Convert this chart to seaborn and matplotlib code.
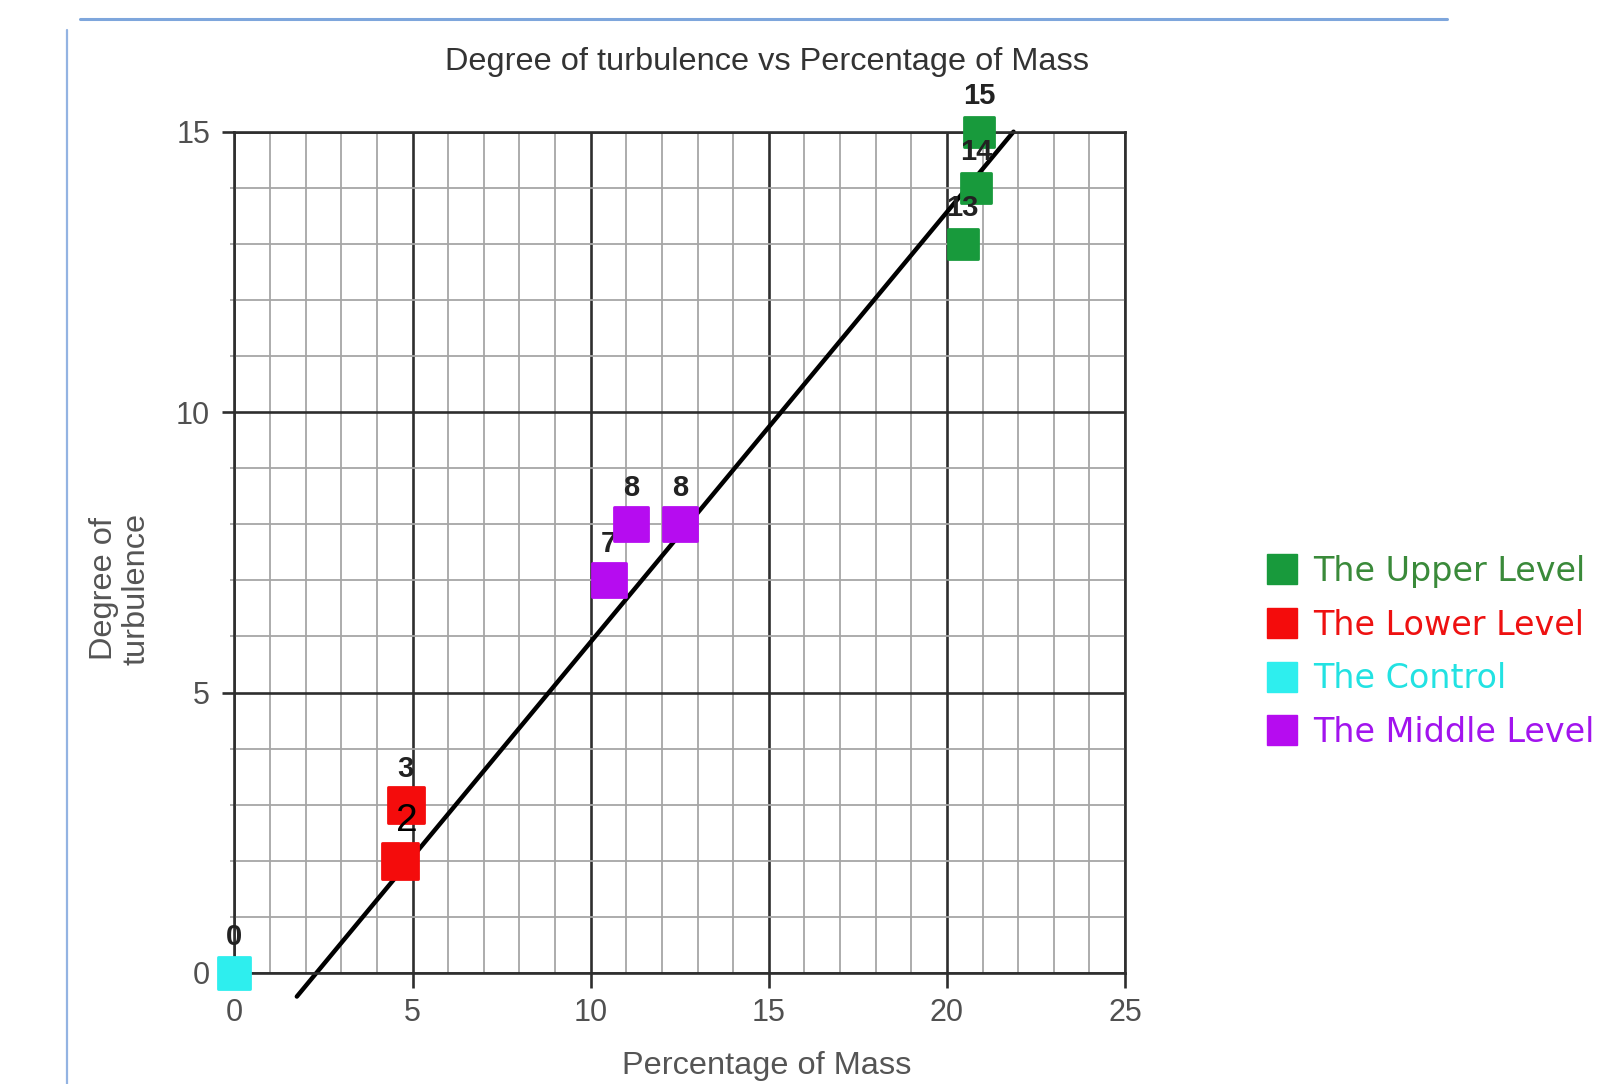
import matplotlib
matplotlib.use('Agg')
import matplotlib.pyplot as plt
from matplotlib.lines import Line2D
from matplotlib.ticker import MultipleLocator
import seaborn as sns
import pandas as pd

# Values (points drawn in this order)
groups = ['The Control', 'The Lower Level', 'The Lower Level',
          'The Middle Level', 'The Middle Level', 'The Middle Level',
          'The Upper Level', 'The Upper Level', 'The Upper Level']
mass = [0.0, 4.81, 4.65, 10.51, 11.13, 12.51, 20.90, 20.82, 20.44]
turbulence = [0, 3, 2, 7, 8, 8, 15, 14, 13]
point_labels = ['0', '3', '2', '7', '8', '8', '15', '14', '13']

# trend line end points
trend_mass = [1.75, 21.87]
trend_turbulence = [-0.42, 15.0]

legend_order = ['The Upper Level', 'The Lower Level', 'The Control', 'The Middle Level']
x_ticks = [0, 5, 10, 15, 20, 25]
y_ticks = [0, 5, 10, 15]

marker_colors = {'The Upper Level': '#189a3c', 'The Lower Level': '#f40c0c',
                 'The Control': '#2eeeee', 'The Middle Level': '#b60cf0'}
marker_sizes = {'The Upper Level': 470, 'The Lower Level': 690,
                'The Control': 560, 'The Middle Level': 600}
legend_text_colors = {'The Upper Level': '#3a8a3a', 'The Lower Level': '#ee1111',
                      'The Control': '#22e2e2', 'The Middle Level': '#a214ee'}

sns.set_theme(style='white')
plt.rcParams['font.family'] = ['Liberation Sans', 'DejaVu Sans']

W, H = 1615, 1084
fig = plt.figure(figsize=(W / 100, H / 100), dpi=100)
ax = fig.add_axes([234.5 / W, 1 - 973 / H, (1125 - 234.5) / W, (973 - 131.7) / H])

df = pd.DataFrame({'group': groups, 'mass': mass,
                   'turbulence': turbulence, 'label': point_labels})

# trend line
sns.lineplot(x=trend_mass, y=trend_turbulence, color='black', linewidth=3.2,
             ax=ax, clip_on=False, zorder=2)

# points and their value labels, each drawn on top of the previous one
for i, row in df.iterrows():
    c = marker_colors[row.group]
    sns.scatterplot(data=df.iloc[[i]], x='mass', y='turbulence', color=c,
                    edgecolor=c, linewidth=2, marker='s', s=marker_sizes[row.group],
                    clip_on=False, zorder=3 + 2 * i, legend=False, ax=ax)
    if row.label == '2':
        ax.annotate(row.label, (row.mass, row.turbulence), xytext=(5, 29),
                    textcoords='offset points', ha='center', va='center',
                    fontsize=28, color='black', zorder=4 + 2 * i,
                    annotation_clip=False)
    else:
        ax.annotate(row.label, (row.mass, row.turbulence), xytext=(0, 26),
                    textcoords='offset points', ha='center', va='center',
                    fontsize=21, fontweight='bold', color='#222222',
                    zorder=4 + 2 * i, annotation_clip=False)

ax.set_xlim(0, 25)
ax.set_ylim(0, 15)
ax.set_xticks(x_ticks)
ax.set_yticks(y_ticks)
ax.xaxis.set_minor_locator(MultipleLocator(1))
ax.yaxis.set_minor_locator(MultipleLocator(1))
ax.grid(which='minor', color='#a6a6a6', linewidth=1.3)
ax.grid(which='major', color='#2e2e2e', linewidth=1.9)
ax.set_axisbelow(True)
for sp in ax.spines.values():
    sp.set_color('#2e2e2e')
    sp.set_linewidth(1.9)
ax.tick_params(axis='x', which='major', bottom=True, length=11, width=1.9,
               color='#2e2e2e', pad=7, labelsize=22, labelcolor='#505050')
ax.tick_params(axis='y', which='major', left=True, length=8.6, width=1.9,
               color='#2e2e2e', pad=9, labelsize=22, labelcolor='#505050')
ax.tick_params(axis='y', which='minor', left=True, length=3, width=1.3, color='#a6a6a6')
ax.set_xlabel('')
ax.set_ylabel('')

fig.text(767 / W, 1 - 62 / H, 'Degree of turbulence vs Percentage of Mass',
         ha='center', va='center', fontsize=23.4, color='#333333')
fig.text(767 / W, 1 - 1066 / H, 'Percentage of Mass',
         ha='center', va='center', fontsize=23.4, color='#555555')
fig.text(120 / W, 1 - 589 / H, 'Degree of\nturbulence', rotation=90,
         ha='center', va='center', fontsize=23.4, color='#555555', linespacing=1.1)

# hand-drawn style legend on the right
handles = [Line2D([], [], marker='s', linestyle='', markersize=21,
                  color=marker_colors[g]) for g in legend_order]
fig.legend(handles, legend_order, loc='center left',
           bbox_to_anchor=(1265 / W, 1 - 652 / H), frameon=False,
           borderpad=0, borderaxespad=0, handlelength=1.0, handletextpad=0.45,
           labelspacing=0.62, prop={'family': 'DejaVu Sans', 'size': 24},
           labelcolor=[legend_text_colors[g] for g in legend_order])

# card border (top and left edges)
fig.add_artist(Line2D([80 / W, 1447 / W], [1 - 19 / H, 1 - 19 / H],
                      transform=fig.transFigure, color='#7ea6dc', linewidth=2.2))
fig.add_artist(Line2D([67 / W, 67 / W], [1 - 30 / H, 0],
                      transform=fig.transFigure, color='#93b3e2', linewidth=1.6))

fig.savefig('out.png', dpi=100)
